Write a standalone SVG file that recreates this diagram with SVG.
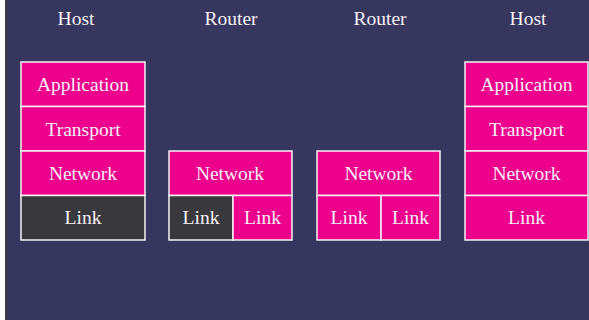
<svg xmlns="http://www.w3.org/2000/svg" width="589" height="320" viewBox="0 0 589 320">
<style>
.bg{fill:#36365e}
.p{fill:#ec008c;stroke:#f4f4f4;stroke-width:1.5}
.d{fill:#39393d;stroke:#f4f4f4;stroke-width:1.5}
.t{fill:#f7f0f5;text-anchor:middle}
</style>
<rect x="0" y="0" width="589" height="320" fill="#ffffff"/>
<rect x="5" y="0" width="584" height="320" fill="#3a3a3f"/>
<rect class="bg" x="7" y="0" width="582" height="320"/>
<g font-family="Liberation Serif, Times New Roman, serif" font-size="19.5">
<g id="host1">
<text class="t" x="76" y="25">Host</text>
<rect class="p" x="21" y="62" width="124" height="44.5"/><text class="t" x="83" y="91">Application</text>
<rect class="p" x="21" y="106.5" width="124" height="44.5"/><text class="t" x="83" y="136">Transport</text>
<rect class="p" x="21" y="151" width="124" height="44.5"/><text class="t" x="83" y="180">Network</text>
<rect class="d" x="21" y="195.5" width="124" height="44.5"/><text class="t" x="83" y="224">Link</text>
</g>
<g id="router1">
<text class="t" x="231" y="25">Router</text>
<rect class="p" x="169" y="151" width="123" height="44.5"/><text class="t" x="230" y="180">Network</text>
<rect class="d" x="169" y="195.5" width="64" height="44.5"/><text class="t" x="201" y="224">Link</text>
<rect class="p" x="233" y="195.5" width="59" height="44.5"/><text class="t" x="262.5" y="224">Link</text>
</g>
<g id="router2">
<text class="t" x="380" y="25">Router</text>
<rect class="p" x="317" y="151" width="123" height="44.5"/><text class="t" x="378.5" y="180">Network</text>
<rect class="p" x="317" y="195.5" width="64" height="44.5"/><text class="t" x="349" y="224">Link</text>
<rect class="p" x="381" y="195.5" width="59" height="44.5"/><text class="t" x="410.5" y="224">Link</text>
</g>
<g id="host2">
<text class="t" x="528" y="25">Host</text>
<rect class="p" x="465" y="62" width="123" height="44.5"/><text class="t" x="526.5" y="91">Application</text>
<rect class="p" x="465" y="106.5" width="123" height="44.5"/><text class="t" x="526.5" y="136">Transport</text>
<rect class="p" x="465" y="151" width="123" height="44.5"/><text class="t" x="526.5" y="180">Network</text>
<rect class="p" x="465" y="195.5" width="123" height="44.5"/><text class="t" x="526.5" y="224">Link</text>
</g>
</g>
<g id="connectors"></g>
</svg>
